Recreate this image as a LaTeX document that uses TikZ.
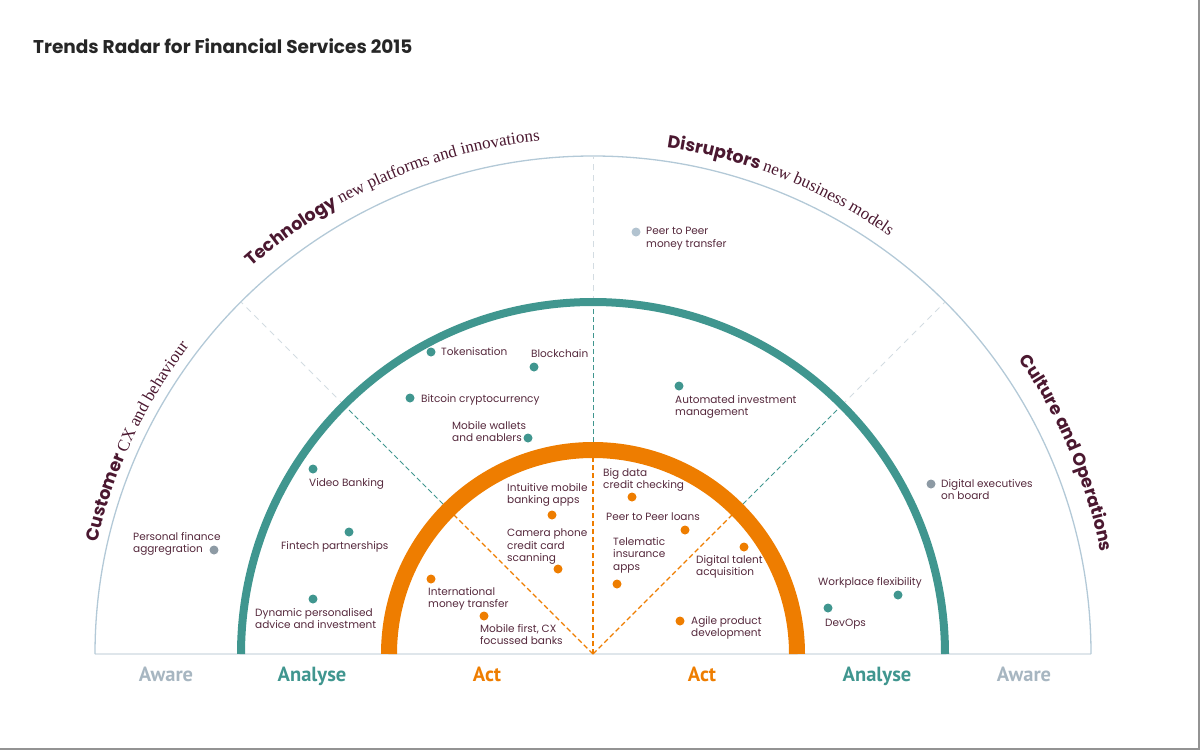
\documentclass[tikz,border=0pt]{standalone}
\usepackage{fontspec}
\setmainfont{Poppins}
\newfontfamily\serifface{Liberation Serif}
\newfontfamily\barface{PT Sans}
\usetikzlibrary{decorations.text}

\definecolor{tealc}{HTML}{40968F}
\definecolor{orangec}{HTML}{EE7D00}
\definecolor{rimc}{HTML}{B3C9D7}
\definecolor{gridc}{HTML}{D3DCE2}
\definecolor{basec}{HTML}{DFE6EB}
\definecolor{labelc}{HTML}{55283C}
\definecolor{catc}{HTML}{4B1830}
\definecolor{titlec}{HTML}{262626}
\definecolor{greydot}{HTML}{8D9AA4}
\definecolor{palec}{HTML}{B2C3D0}
\definecolor{awarec}{HTML}{A7B6C1}

\newcommand{\catfnt}{\bfseries\fontsize{17.5}{20}\selectfont}
\newcommand{\subfnt}{\serifface\fontsize{17}{19}\selectfont}

\tikzset{
  lbl/.style={font=\fontsize{10.5}{12.5}\selectfont, text=labelc, align=left, anchor=north west, inner sep=0pt},
  blob/.style={circle, fill=#1, inner sep=0pt, minimum size=9pt},
  zone/.style={font=\barface\bfseries\fontsize{20.5}{22}\selectfont, anchor=base, inner sep=0pt},
  curved/.style={decorate, decoration={text along path, text color=catc, text={#1}}}
}

\begin{document}
\begin{tikzpicture}[x=1pt, y=1pt]
    \useasboundingbox (0,0) rectangle (1200,-750);
    \coordinate (c) at (593,-654);

    % Title
    \node[font=\bfseries\fontsize{18.5}{21}\selectfont, text=titlec, anchor=base west, inner sep=0pt] (title) at (33,-53) {Trends Radar for Financial Services 2015};

    % Rings and spokes
    \draw[basec, line width=2.5pt] (c) ++(-498,0) -- ++(996,0);
    \draw[rimc, line width=1.3pt] (c) ++(180:498) arc[start angle=180, end angle=0, radius=498];
    \foreach \a in {45,90,135} {
        \draw[gridc, line width=1pt, dash pattern=on 6pt off 5pt] (c) ++(\a:352) -- ++(\a:146);
        \draw[tealc, line width=1pt, dash pattern=on 5pt off 3pt] (c) ++(\a:204) -- ++(\a:148);
        \draw[orangec, line width=1.2pt, dash pattern=on 5pt off 3pt] (c) -- ++(\a:204);
    }
    \draw[tealc, line width=8pt] (c) ++(180:352) arc[start angle=180, end angle=0, radius=352];
    \draw[orangec, line width=16pt] (c) ++(180:204) arc[start angle=180, end angle=0, radius=204];

    % Sector names
    \path[curved={|\catfnt|Customer{ }|\subfnt|CX and behaviour}] (c) ++(167.3:508) arc[start angle=167.3, end angle=120, radius=508];
    \path[curved={|\catfnt|Technology{ }|\subfnt|new platforms and innovations}] (c) ++(131.4:516) arc[start angle=131.4, end angle=80, radius=516];
    \path[curved={|\catfnt|Disruptors{ }|\subfnt|new business models}] (c) ++(81.7:512) arc[start angle=81.7, end angle=35, radius=512];
    \path[curved={|\catfnt|Culture and Operations}] (c) ++(34.7:518) arc[start angle=34.7, end angle=-8, radius=518];

    % Dots
    \node[blob=palec] (ppm) at (636,-232) {};
    \node[blob=tealc] (tok) at (431,-352) {};
    \node[blob=tealc] (blk) at (534,-367) {};
    \node[blob=tealc] (btc) at (410,-398) {};
    \node[blob=tealc] (wal) at (528,-438) {};
    \node[blob=tealc] (aut) at (679,-386) {};
    \node[blob=tealc] (vid) at (313,-469) {};
    \node[blob=tealc] (fin) at (349,-532) {};
    \node[blob=tealc] (dyn) at (313,-599) {};
    \node[blob=tealc] (wpf) at (898,-595) {};
    \node[blob=tealc] (dev) at (828,-608) {};
    \node[blob=orangec] (imb) at (552,-515) {};
    \node[blob=orangec] (cam) at (558,-569) {};
    \node[blob=orangec] (imt) at (431,-579) {};
    \node[blob=orangec] (mfb) at (484,-616) {};
    \node[blob=orangec] (bdc) at (632,-497) {};
    \node[blob=orangec] (ppl) at (685,-530) {};
    \node[blob=orangec] (tel) at (617,-584) {};
    \node[blob=orangec] (dta) at (744,-547) {};
    \node[blob=orangec] (apd) at (680,-621) {};
    \node[blob=greydot] (pfa) at (214,-550) {};
    \node[blob=greydot] (dex) at (931,-484) {};

    % Labels
    \node[lbl] (ppm-l) at (646,-227) {Peer to Peer\\money transfer};
    \node[lbl] (tok-l) at (441,-347) {Tokenisation};
    \node[lbl] (blk-l) at (531,-349) {Blockchain};
    \node[lbl] (btc-l) at (421,-394) {Bitcoin cryptocurrency};
    \node[lbl] (wal-l) at (452,-421) {Mobile wallets\\and enablers};
    \node[lbl] (aut-l) at (675,-395) {Automated investment\\management};
    \node[lbl] (vid-l) at (309,-478) {Video Banking};
    \node[lbl] (fin-l) at (281,-541) {Fintech partnerships};
    \node[lbl] (dyn-l) at (255,-608) {Dynamic personalised\\advice and investment};
    \node[lbl] (pfa-l) at (133,-532) {Personal finance\\aggregration};
    \node[lbl] (imb-l) at (507,-483) {Intuitive mobile\\banking apps};
    \node[lbl] (cam-l) at (507,-529) {Camera phone\\credit card\\scanning};
    \node[lbl] (imt-l) at (428,-587) {International\\money transfer};
    \node[lbl] (mfb-l) at (480,-624) {Mobile first, CX\\focussed banks};
    \node[lbl] (bdc-l) at (603,-468) {Big data\\credit checking};
    \node[lbl] (ppl-l) at (606,-513) {Peer to Peer loans};
    \node[lbl] (tel-l) at (613,-537) {Telematic\\insurance\\apps};
    \node[lbl] (dta-l) at (696,-555) {Digital talent\\acquisition};
    \node[lbl] (apd-l) at (691,-616) {Agile product\\development};
    \node[lbl] (dex-l) at (941,-479) {Digital executives\\on board};
    \node[lbl] (wpf-l) at (818,-577) {Workplace flexibility};
    \node[lbl] (dev-l) at (825,-619) {DevOps};

    % Zones
    \foreach \x/\t/\col in {166/Aware/awarec, 312/Analyse/tealc, 487/Act/orangec, 702/Act/orangec, 877/Analyse/tealc, 1024/Aware/awarec}
        \node[zone, text=\col] (zone\x) at (\x,-681) {\t};

    % Frame
    \draw[gray!85, line width=2pt] (0,-749) -- (1199,-749) -- (1199,0);
\end{tikzpicture}
\end{document}
